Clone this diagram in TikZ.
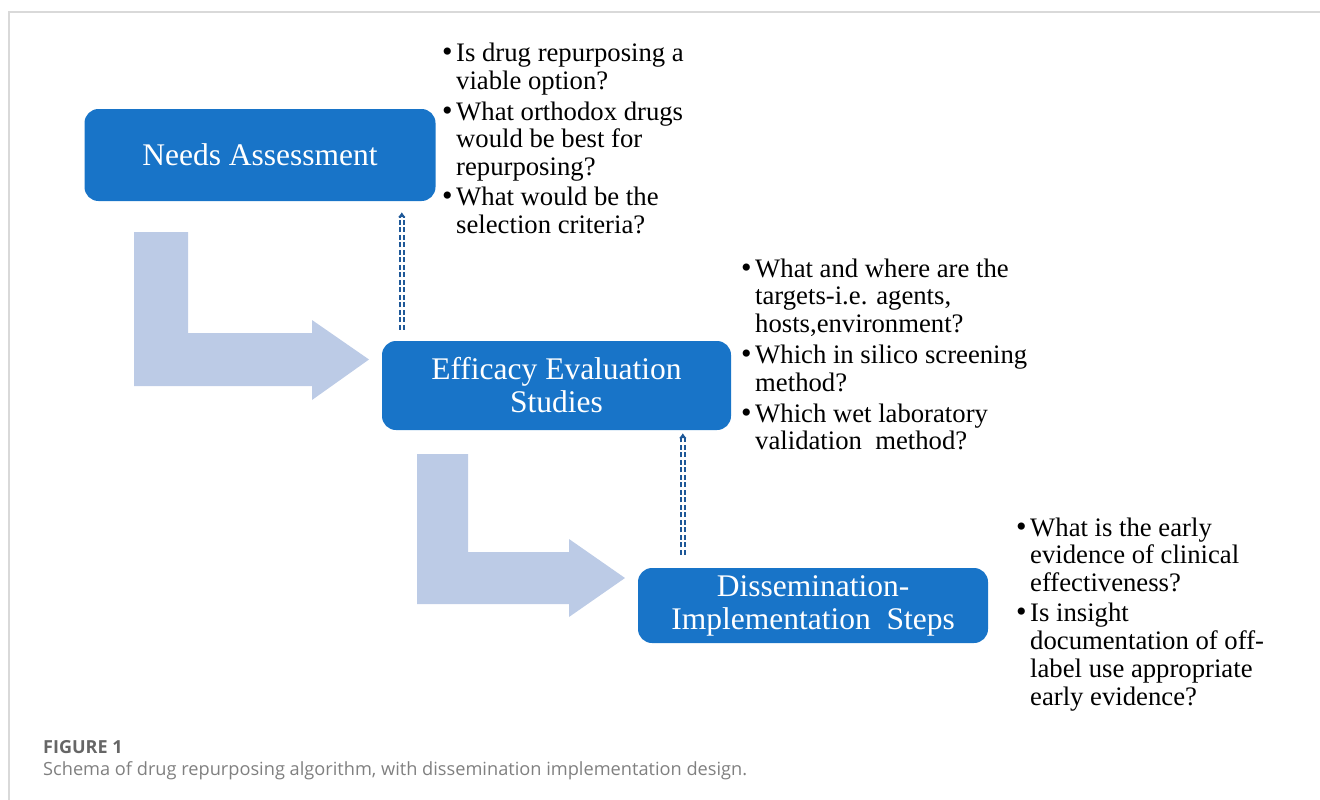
\documentclass[tikz,border=0pt]{standalone}
\usepackage{fontspec}
\setmainfont{Liberation Serif}
\newfontfamily\capfont{Open Sans}
\usetikzlibrary{arrows.meta}
\definecolor{boxblue}{RGB}{24,116,200}
\definecolor{bendblue}{RGB}{188,203,230}
\definecolor{dashblue}{RGB}{30,88,152}
\definecolor{framegray}{RGB}{217,217,217}
\newcommand{\Qs}[1]{{\fontsize{26.7}{27.8}\selectfont
  \begin{tabular}[t]{@{}l@{\hspace{3.5pt}}l@{}}#1\end{tabular}}}
\newcommand{\Q}{{\fontsize{30}{27.8}\selectfont\textbullet}&}

\begin{document}
\begin{tikzpicture}[x=1pt, y=-1pt, >={Latex[length=5pt,width=8pt]},
    stagebox/.style={rectangle, rounded corners=14pt, fill=boxblue,
      text=white, align=center, font=\fontsize{31.5}{33}\selectfont},
    bentarrow/.style={fill=bendblue},
    dasharrow/.style={->, draw=dashblue, double=white, double distance=2.4pt,
      line width=1.8pt, dash pattern=on 5pt off 2.5pt},
    questions/.style={anchor=base west, inner sep=0pt}]

    \useasboundingbox (0,0) rectangle (1320,800);
    \draw[framegray, line width=1.5pt] (9,800) -- (9,12) -- (1320,12);

    \node[stagebox, minimum width=351pt, minimum height=92pt] (A) at (260,155)
    {Needs Assessment};
    \node[stagebox, minimum width=349pt, minimum height=89pt] (B) at (556.5,385.5)
    {Efficacy Evaluation\\Studies};
    \node[stagebox, minimum width=350pt, minimum height=75pt] (C) at (813,605.5)
    {Dissemination-\\Implementation\ \ Steps};

    \fill[bentarrow] (134,232) -- (188,232) -- (188,333) -- (312,333) -- (312,320)
    -- (369,359.5) -- (312,400) -- (312,386) -- (134,386) -- cycle;
    \fill[bentarrow] (417,454) -- (468,454) -- (468,552) -- (569,552) -- (569,539)
    -- (625,578) -- (569,617) -- (569,604) -- (417,604) -- cycle;

    \draw[dasharrow, shorten <=11pt, shorten >=11pt]
    ([xshift=20pt]B.north west) -- ([xshift=20pt]B.north west |- A.south);
    \draw[dasharrow, shorten <=13pt, shorten >=3pt]
    ([xshift=45pt]C.north west) -- ([xshift=45pt]C.north west |- B.south);

    \node[questions] (qA) at (442,62) {\Qs{
      \Q Is drug repurposing a\\ & viable option?\\[2.5pt]
      \Q What orthodox drugs\\ & would be best for\\ & repurposing?\\[2.5pt]
      \Q What would be the\\ & selection criteria?}};
    \node[questions] (qB) at (741,277) {\Qs{
      \Q What and where are the\\ & targets-i.e. agents,\\ & hosts,environment?\\[3pt]
      \Q Which in silico screening\\ & method?\\[3pt]
      \Q Which wet laboratory\\ & validation\ \ method?}};
    \node[questions] (qC) at (1016,536) {\Qs{
      \Q What is the early\\ & evidence of clinical\\ & effectiveness?\\[2.5pt]
      \Q Is insight\\ & documentation of off-\\ & label use appropriate\\ & early evidence?}};

    \node[anchor=base west, inner sep=0pt, text=black!60,
      font=\capfont\bfseries\fontsize{18}{20}\selectfont] (fig) at (43,753) {FIGURE 1};
    \node[anchor=base west, inner sep=0pt, text=black!50,
      font=\capfont\fontsize{18.2}{20}\selectfont] (cap) at (43,775)
    {Schema of drug repurposing algorithm, with dissemination implementation design.};

\end{tikzpicture}
\end{document}
